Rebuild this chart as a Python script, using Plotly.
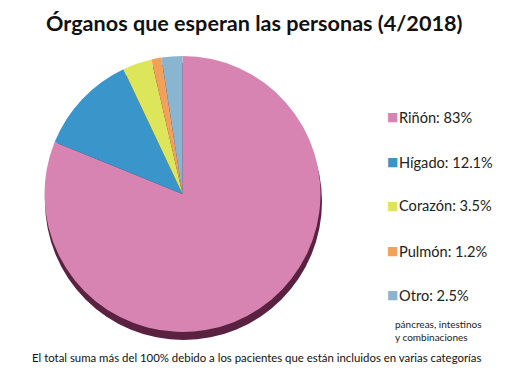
import plotly.graph_objects as go

organos = ["Riñón", "Hígado", "Corazón", "Pulmón", "Otro"]
porcentajes = [83, 12.1, 3.5, 1.2, 2.5]
colores = ["#D884B2", "#3A95CB", "#DDE55A", "#F2A05A", "#8AB5D0"]
titulo = "Órganos que esperan las personas (4/2018)"
nota_otro = "páncreas, intestinos<br>y combinaciones"
nota_pie = "El total suma más del 100% debido a los pacientes que están incluidos en varias categorías"

# page body has an 8px margin; size the figure to fit inside the window
OFF = 8
W, H = 510 - OFF, 385 - OFF


def px(x):
    return (x - OFF) / W


def py(y):
    return 1 - (y - OFF) / H


fig = go.Figure()
fig.add_trace(go.Pie(
    labels=organos,
    values=porcentajes,
    marker=dict(colors=colores, line=dict(width=0)),
    sort=False,
    direction="clockwise",
    rotation=0,
    textinfo="none",
    hoverinfo="label+percent",
    showlegend=False,
    domain=dict(x=[px(182.5 - 138), px(182.5 + 138)],
                y=[py(332), py(56)]),
))

# 3D-like shadow under the pie
fig.add_shape(type="circle", xref="paper", yref="paper", layer="below",
              x0=px(45), x1=px(322), y0=py(340), y1=py(63),
              fillcolor="#5A2240", line=dict(width=0))

annotations = []
y_items = [117, 162, 206, 251, 295]
for name, val, col, yp in zip(organos, porcentajes, colores, y_items):
    annotations.append(dict(x=px(385), y=py(yp), xref="paper", yref="paper",
                            xanchor="left", yanchor="middle", showarrow=False,
                            text="■", font=dict(size=12, color=col, family="DejaVu Sans")))
    annotations.append(dict(x=px(397), y=py(yp), xref="paper", yref="paper",
                            xanchor="left", yanchor="middle", showarrow=False,
                            text=f"{name}: {val}%",
                            font=dict(size=14.6, color="#222222", family="Lato")))

annotations.append(dict(x=px(393), y=py(330), xref="paper", yref="paper",
                        xanchor="left", yanchor="middle", showarrow=False, align="left",
                        text=nota_otro, font=dict(size=10, color="#222222", family="Lato")))
annotations.append(dict(x=px(256), y=py(357), xref="paper", yref="paper",
                        xanchor="center", yanchor="middle", showarrow=False,
                        text=nota_pie, font=dict(size=11.4, color="#111111", family="Lato")))
annotations.append(dict(x=px(254), y=py(23), xref="paper", yref="paper",
                        xanchor="center", yanchor="middle", showarrow=False,
                        text=f"<b>{titulo}</b>", font=dict(size=21.6, color="#111111", family="Lato")))

fig.update_layout(
    width=W, height=H,
    margin=dict(l=0, r=0, t=0, b=0),
    paper_bgcolor="white", plot_bgcolor="white",
    annotations=annotations,
)

fig.write_html("out.html")
